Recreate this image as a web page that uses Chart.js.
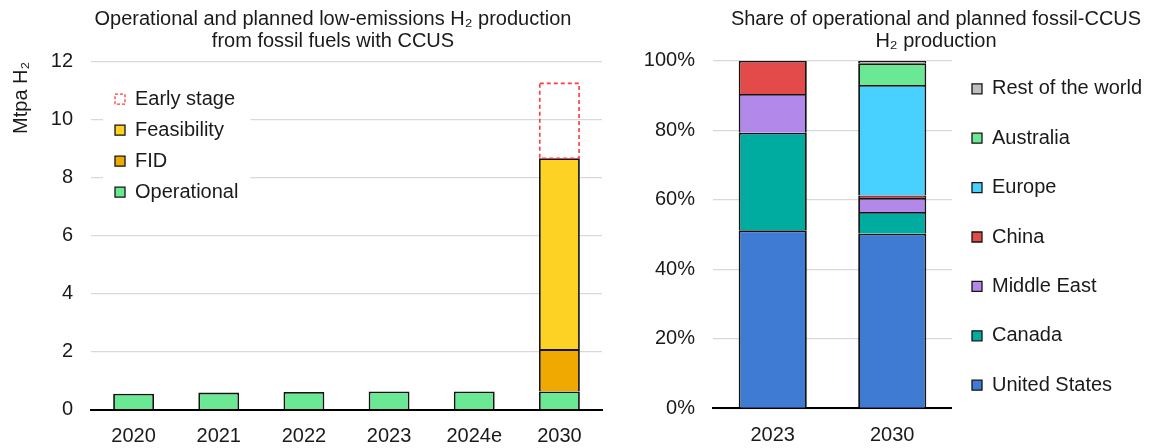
<!DOCTYPE html>
<html>
<head>
<meta charset="utf-8">
<script src="https://cdn.jsdelivr.net/npm/chart.js"></script>
<style>
  html, body { margin: 0; padding: 0; background: #fff; overflow: hidden; }
  #wrap { position: relative; width: 1153px; height: 448px; overflow: hidden; background: #fff; }
  #productionChart { position: absolute; left: 0; top: 0; }
  #shareChart { position: absolute; left: 630px; top: 0; }
</style>
</head>
<body>
<div id="wrap">
  <canvas id="productionChart" width="640" height="448"></canvas>
  <canvas id="shareChart" width="523" height="448"></canvas>
</div>
<script>
// Left chart: Mtpa H2
const years = ['2020', '2021', '2022', '2023', '2024e', '2030'];
const operational = [0.55, 0.59, 0.61, 0.63, 0.63, 0.63];
const fid = [null, null, null, null, null, 1.46];
const feasibility = [null, null, null, null, null, 6.58];
const earlyStage = [null, null, null, null, null, 2.61];
const productionTicks = [0, 2, 4, 6, 8, 10, 12];

// Right chart: share in %
const shareYears = ['2023', '2030'];
const unitedStates = [51.2, 50.2];
const canada = [28.1, 6.3];
const middleEast = [11.1, 4.0];
const china = [9.6, 0.7];
const europe = [0, 31.8];
const australia = [0, 6.3];
const restOfWorld = [0, 0.7];
const shareTicks = [0, 20, 40, 60, 80, 100];

const FONT = "'Liberation Sans', Arial, sans-serif";
const TEXT = '#1a1a1a';
const EDGE = '#141414';
const GRID = '#d9d9d9';
const EARLY_RED = '#ff3b3b';

Chart.defaults.font.family = FONT;
Chart.defaults.font.size = 20;
Chart.defaults.color = TEXT;

// put title and legend where the reference has them
const placeBlocks = {
    id: 'placeBlocks',
    afterLayout(chart, args, opts) {
        if (opts.titleCenter != null && chart.titleBlock) {
            chart.titleBlock.left = opts.titleCenter - chart.width;
            chart.titleBlock.right = opts.titleCenter + chart.width;
        }
        if (opts.legendX != null && chart.legend) {
            const lg = chart.legend;
            const pad = lg.options.labels.padding;
            lg.left = opts.legendX - pad;
            lg.top = opts.legendY - pad;
            lg.right = chart.width;
            lg.bottom = chart.height;
        }
    }
};

// white box behind the in-plot legend, then redraw it on top
const legendBackdrop = {
    id: 'legendBackdrop',
    beforeDatasetsDraw(chart) {
        const lg = chart.legend;
        const pad = lg.options.labels.padding;
        const ctx = chart.ctx;
        const itemW = Math.max(...lg.legendHitBoxes.map(h => h.width));
        const n = lg.legendItems.length;
        ctx.save();
        ctx.fillStyle = '#fff';
        ctx.fillRect(lg.left + pad - 12, lg.top + pad - 8, itemW + 24, n * (20 + pad) - pad + 16);
        ctx.restore();
        lg.draw();
    }
};

// dashed outline for the early stage segment
const dashedOutline = {
    id: 'dashedOutline',
    afterDatasetsDraw(chart, args, opts) {
        const idx = chart.data.datasets.findIndex(d => d.label === opts.label);
        if (idx < 0) return;
        const meta = chart.getDatasetMeta(idx);
        const values = chart.data.datasets[idx].data;
        const ctx = chart.ctx;
        const lw = opts.width;
        ctx.save();
        ctx.strokeStyle = opts.color;
        ctx.lineWidth = lw;
        ctx.setLineDash(opts.dash);
        meta.data.forEach((bar, i) => {
            if (values[i] == null) return;
            const p = bar.getProps(['x', 'y', 'base', 'width'], true);
            const top = Math.min(p.y, p.base);
            const bottom = Math.max(p.y, p.base);
            ctx.strokeRect(p.x - p.width / 2 + lw / 2, top + lw / 2, p.width - lw, bottom - top - lw / 2);
        });
        ctx.restore();
    }
};

const barStyle = {
    borderColor: EDGE,
    borderWidth: 1.8,
    borderSkipped: 'start',
    categoryPercentage: 1
};

new Chart(document.getElementById('productionChart'), {
    type: 'bar',
    data: {
        labels: years,
        datasets: [
            { label: 'Operational', data: operational, backgroundColor: '#6ae894' },
            { label: 'FID', data: fid, backgroundColor: '#f0a900' },
            { label: 'Feasibility', data: feasibility, backgroundColor: '#fdd224' },
            { label: 'Early stage', data: earlyStage, backgroundColor: 'rgba(0,0,0,0)', borderWidth: 0 }
        ].map(d => Object.assign({}, barStyle, { barPercentage: 0.48 }, d))
    },
    options: {
        responsive: false,
        animation: false,
        layout: { padding: { left: 0, right: 38, top: 0, bottom: 0 } },
        plugins: {
            title: {
                display: true,
                text: ['Operational and planned low-emissions H\u2082 production', 'from fossil fuels with CCUS'],
                color: TEXT,
                font: { size: 20, weight: 'normal', lineHeight: 1.1 },
                padding: { top: 8.7, bottom: 9 }
            },
            legend: {
                position: 'chartArea',
                align: 'start',
                reverse: true,
                labels: {
                    boxWidth: 10,
                    boxHeight: 10,
                    padding: 11,
                    color: TEXT,
                    font: { size: 20 },
                    generateLabels(chart) {
                        const items = Chart.defaults.plugins.legend.labels.generateLabels(chart);
                        items.forEach(it => {
                            if (it.text === 'Early stage') {
                                it.fillStyle = '#fff';
                                it.strokeStyle = EARLY_RED;
                                it.lineWidth = 1.3;
                                it.lineDash = [3, 2];
                            } else {
                                it.lineWidth = 1.3;
                            }
                        });
                        return items;
                    }
                }
            },
            tooltip: { enabled: false },
            placeBlocks: { titleCenter: 333, legendX: 115, legendY: 89.2 },
            dashedOutline: { label: 'Early stage', color: EARLY_RED, width: 1.6, dash: [4, 3] }
        },
        scales: {
            x: {
                stacked: true,
                grid: { display: false, drawTicks: false },
                border: { display: true, color: '#000', width: 2 },
                ticks: { padding: 14.3, color: TEXT },
                afterFit: s => { s.height = 38.3; }
            },
            y: {
                stacked: true,
                min: 0,
                max: 12,
                afterBuildTicks: axis => { axis.ticks = productionTicks.map(v => ({ value: v })); },
                grid: { color: GRID, lineWidth: 1.2, drawTicks: false },
                border: { display: false },
                ticks: { padding: 18, color: TEXT },
                title: {
                    display: true,
                    text: 'Mtpa H\u2082',
                    align: 'end',
                    color: TEXT,
                    font: { size: 20, lineHeight: 1.2 },
                    padding: { top: 9, bottom: 10 }
                },
                afterFit: s => { s.width = 91; }
            }
        }
    },
    plugins: [placeBlocks, legendBackdrop, dashedOutline]
});

new Chart(document.getElementById('shareChart'), {
    type: 'bar',
    data: {
        labels: shareYears,
        datasets: [
            { label: 'United States', data: unitedStates, backgroundColor: '#3f7ad3' },
            { label: 'Canada', data: canada, backgroundColor: '#00ab9f' },
            { label: 'Middle East', data: middleEast, backgroundColor: '#b388eb' },
            { label: 'China', data: china, backgroundColor: '#e34a4a' },
            { label: 'Europe', data: europe, backgroundColor: '#48d1ff' },
            { label: 'Australia', data: australia, backgroundColor: '#6ae894' },
            { label: 'Rest of the world', data: restOfWorld, backgroundColor: '#bfbfbf' }
        ].map(d => Object.assign({}, barStyle, { barPercentage: 0.57 }, d))
    },
    options: {
        responsive: false,
        animation: false,
        layout: { padding: { left: 0, right: 93.7, top: 0, bottom: 0 } },
        plugins: {
            title: {
                display: true,
                text: ['Share of operational and planned fossil-CCUS', 'H\u2082 production'],
                color: TEXT,
                font: { size: 20, weight: 'normal', lineHeight: 1.1 },
                padding: { top: 8, bottom: 8.7 }
            },
            legend: {
                position: 'right',
                align: 'start',
                reverse: true,
                labels: {
                    boxWidth: 10,
                    boxHeight: 10,
                    padding: 29.4,
                    color: TEXT,
                    font: { size: 20 },
                    generateLabels(chart) {
                        const items = Chart.defaults.plugins.legend.labels.generateLabels(chart);
                        items.forEach(it => { it.lineWidth = 1.3; });
                        return items;
                    }
                }
            },
            tooltip: { enabled: false },
            placeBlocks: { titleCenter: 306, legendX: 342, legendY: 78.8 }
        },
        scales: {
            x: {
                stacked: true,
                grid: { display: false, drawTicks: false },
                border: { display: true, color: '#000', width: 2 },
                ticks: { padding: 15.5, color: TEXT },
                afterFit: s => { s.height = 39.7; }
            },
            y: {
                stacked: true,
                min: 0,
                max: 100,
                afterBuildTicks: axis => { axis.ticks = shareTicks.map(v => ({ value: v })); },
                grid: { color: GRID, lineWidth: 1.2, drawTicks: false },
                border: { display: false },
                ticks: { padding: 18, color: TEXT, callback: v => v + '%' },
                afterFit: s => { s.width = 83; }
            }
        }
    },
    plugins: [placeBlocks]
});
</script>
</body>
</html>
